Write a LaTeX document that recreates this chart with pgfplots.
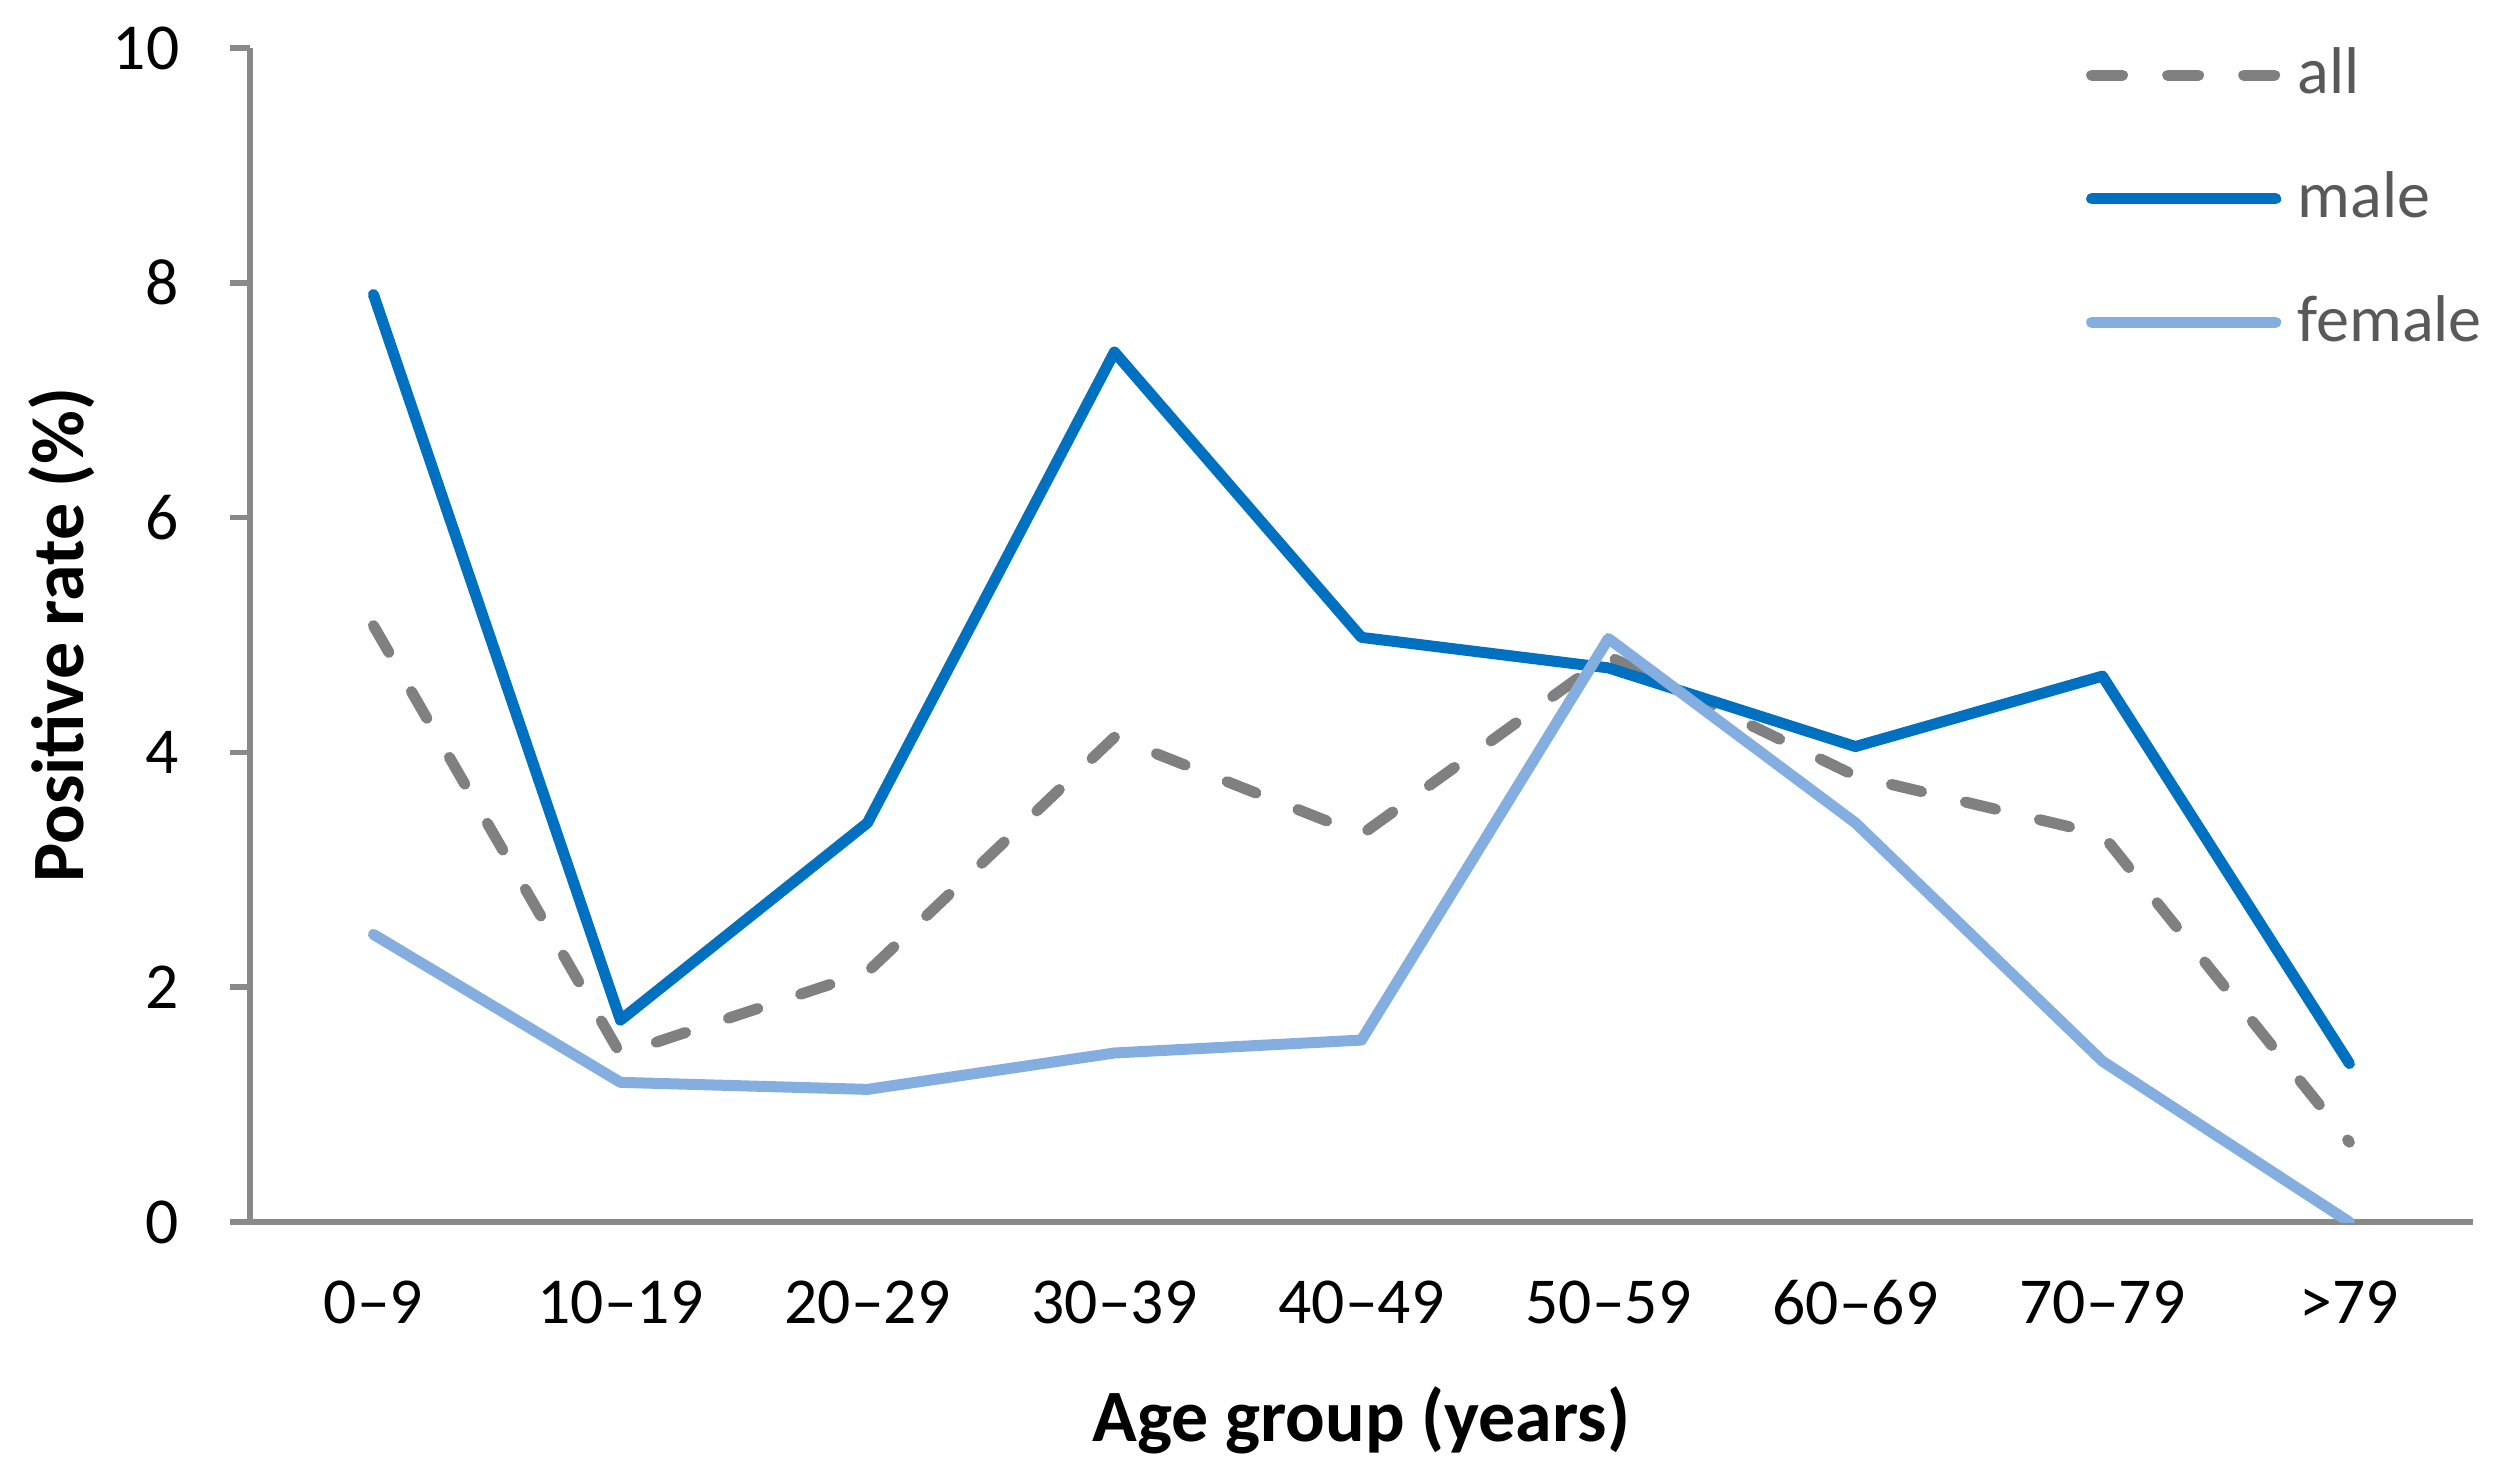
\documentclass[border=0pt]{standalone}
\usepackage{fontspec}
\setmainfont{Carlito}
\usepackage{pgfplots}
\pgfplotsset{compat=1.18}
\definecolor{male}{HTML}{0070C0}
\definecolor{female}{HTML}{85AEE0}
\definecolor{allc}{HTML}{808080}
\definecolor{axisgray}{HTML}{898989}
\definecolor{legtext}{HTML}{595959}
\begin{document}
\begin{tikzpicture}
\useasboundingbox (0,0) rectangle (16cm,9.387cm);
\begin{axis}[
    at={(1.594cm,1.594cm)}, anchor=south west,
    scale only axis,
    width=14.176cm, height=7.487cm,
    xmin=-0.5, xmax=8.5, ymin=0, ymax=10,
    axis x line*=bottom, axis y line*=left,
    axis line style={axisgray, line width=1pt},
    xtick={0,...,8},
    xticklabels={0–9,10–19,20–29,30–39,40–49,50–59,60–69,70–79,>79},
    x tick style={draw=none},
    ytick={0,2,...,10},
    y tick style={axisgray, line width=1pt},
    tick align=outside, major tick length=3.6pt,
    tick label style={font=\fontsize{11.9}{14}\selectfont},
    xticklabel style={yshift=-3.5pt},
    yticklabel style={xshift=-5.7pt},
    /pgf/number format/assume math mode=true,
    xlabel={\textbf{Age group (years)}},
    ylabel={\textbf{Positive rate (\%)}},
    label style={font=\fontsize{13.4}{16}\selectfont},
    xlabel style={at={(axis description cs:0.5,-0.1687)}, anchor=center},
    ylabel style={at={(axis description cs:-0.0846,0.5)}, anchor=center},
    legend style={draw=none, fill=none, at={(0.8255,1)}, anchor=north west,
        yshift=2.2pt, font=\fontsize{12}{14}\selectfont\color{legtext},
        row sep=8.6pt, column sep=1pt, inner sep=0pt},
    legend cell align=left,
    legend image code/.code={\draw[#1] (0.035cm,0cm) -- (1.209cm,0cm);},
    every axis plot/.append style={line width=2pt, line cap=round, line join=round},
]
\addplot[allc, dash pattern=on 5.6pt off 8.2pt] coordinates
{(0,5.08) (1,1.43) (2,2.13) (3,4.13) (4,3.3) (5,4.82) (6,3.8) (7,3.3) (8,0.68)};
\addplot[male] coordinates
{(0,7.9) (1,1.72) (2,3.4) (3,7.41) (4,4.98) (5,4.72) (6,4.05) (7,4.65) (8,1.35)};
\addplot[female] coordinates
{(0,2.45) (1,1.19) (2,1.13) (3,1.44) (4,1.55) (5,4.97) (6,3.4) (7,1.37) (8,0)};
\legend{all, male, female}
\end{axis}
\end{tikzpicture}
\end{document}
